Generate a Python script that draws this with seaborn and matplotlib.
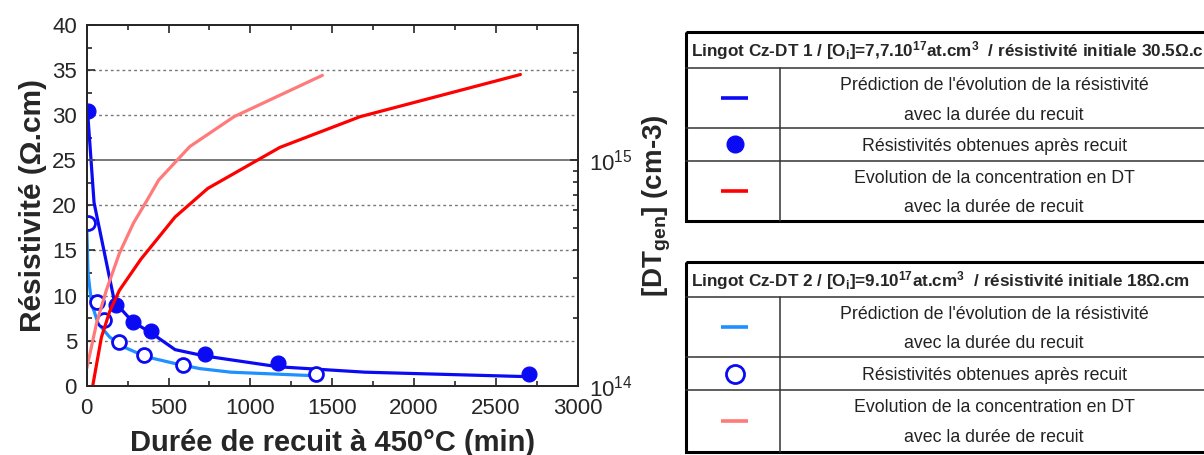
import matplotlib.pyplot as plt
import matplotlib.ticker as mticker
from matplotlib.patches import Rectangle
import seaborn as sns

# Cz-DT 1 : résistivité prédite et mesurée (Ohm.cm) vs durée du recuit (min)
time_fit1 = [5, 45, 170, 280, 390, 540, 720, 1170, 1700, 2700]
rho_fit1 = [30.5, 20.3, 9.3, 7.1, 5.9, 4.0, 3.3, 2.1, 1.5, 1.0]
time_meas1 = [5, 180, 280, 390, 720, 1170, 2700]
rho_meas1 = [30.5, 9.0, 7.1, 6.1, 3.5, 2.5, 1.3]

# Cz-DT 2
time_fit2 = [0, 8, 30, 70, 140, 225, 365, 530, 690, 880, 1400]
rho_fit2 = [18.0, 12.5, 9.1, 6.9, 5.4, 4.3, 3.2, 2.5, 1.9, 1.5, 1.1]
time_meas2 = [5, 60, 105, 200, 350, 590, 1400]
rho_meas2 = [18.0, 9.3, 7.3, 4.8, 3.4, 2.3, 1.3]

# concentration en DT générés (cm-3)
time_dt1 = [37, 90, 140, 200, 330, 540, 740, 1180, 1670, 2650]
dt1 = [1.0e14, 1.64e14, 2.13e14, 2.65e14, 3.63e14, 5.6e14, 7.5e14, 1.14e15, 1.56e15, 2.40e15]
time_dt2 = [0, 60, 120, 200, 285, 370, 440, 630, 900, 1440]
dt2 = [1.19e14, 1.89e14, 2.65e14, 3.87e14, 5.25e14, 6.67e14, 8.17e14, 1.15e15, 1.56e15, 2.38e15]

headers = [
    r'Lingot Cz-DT 1 / [O$_\mathbf{i}$]=7,7.10$^\mathbf{17}$at.cm$^\mathbf{3}$  / résistivité initiale 30.5Ω.cm',
    r'Lingot Cz-DT 2 / [O$_\mathbf{i}$]=9.10$^\mathbf{17}$at.cm$^\mathbf{3}$  / résistivité initiale 18Ω.cm',
]
row_texts = [
    ["Prédiction de l'évolution de la résistivité", 'avec la durée du recuit'],
    ['Résistivités obtenues après recuit'],
    ['Evolution de la concentration en DT', 'avec la durée de recuit'],
]

BLUE = '#0a0af5'
LBLUE = '#1e90ff'
RED = '#ff0000'
PINK = '#ff7a7a'

sns.set_style('ticks')
plt.rcParams['font.family'] = ['Liberation Sans', 'DejaVu Sans']
plt.rcParams['mathtext.fontset'] = 'custom'
plt.rcParams['mathtext.rm'] = 'Liberation Sans'
plt.rcParams['mathtext.bf'] = 'Liberation Sans:bold'
plt.rcParams['mathtext.it'] = 'Liberation Sans:italic'

fig = plt.figure(figsize=(12.04, 4.55), dpi=100)
ax = fig.add_axes([0.072, 0.1523, 0.4078, 0.7928])
ax2 = ax.twinx()
ax2.set_yscale('log')

# grille
for yv in [5, 10, 15, 20, 30, 35]:
    ax.axhline(yv, color='#777777', lw=1, ls=(0, (2, 2.2)), zorder=0)
ax2.axhline(1e15, color='#555555', lw=1.1, zorder=0)

# courbes de résistivité
sns.lineplot(x=time_fit2, y=rho_fit2, ax=ax, color=LBLUE, lw=2.3, estimator=None, sort=False)
sns.lineplot(x=time_fit1, y=rho_fit1, ax=ax, color=BLUE, lw=2.3, estimator=None, sort=False)
sns.scatterplot(x=time_meas1, y=rho_meas1, ax=ax, color=BLUE, edgecolor=BLUE, s=115, zorder=6)
sns.scatterplot(x=time_meas2, y=rho_meas2, ax=ax, facecolor='white', edgecolor=BLUE,
                linewidth=2, s=100, zorder=6)

# concentrations DT (axe droit)
sns.lineplot(x=time_dt2, y=dt2, ax=ax2, color=PINK, lw=2.3, estimator=None, sort=False)
sns.lineplot(x=time_dt1, y=dt1, ax=ax2, color=RED, lw=2.3, estimator=None, sort=False)

ax.set_xlim(0, 3000)
ax.set_ylim(0, 40)
ax2.set_ylim(1e14, 10 ** 15.6)

ax.xaxis.set_major_locator(mticker.MultipleLocator(500))
ax.xaxis.set_minor_locator(mticker.MultipleLocator(250))
ax.yaxis.set_major_locator(mticker.MultipleLocator(5))
ax.yaxis.set_minor_locator(mticker.MultipleLocator(2.5))
ax2.yaxis.set_major_locator(mticker.LogLocator(base=10))
ax2.yaxis.set_minor_locator(mticker.LogLocator(base=10, subs=range(2, 10)))
ax2.yaxis.set_minor_formatter(mticker.NullFormatter())

ax.tick_params(which='both', direction='in', top=True, right=False, labelsize=16, width=1.2)
ax.tick_params(axis='x', which='major', length=6, pad=9)
ax.tick_params(axis='y', which='major', length=6, pad=7)
ax.tick_params(which='minor', length=3.5)
ax2.tick_params(which='both', direction='in', labelsize=16, width=1.2)
ax2.tick_params(which='major', length=6, pad=8)
ax2.tick_params(which='minor', length=3.5)
for sp in ax.spines.values():
    sp.set_linewidth(1.3)
for sp in ax2.spines.values():
    sp.set_linewidth(1.3)

ax.set_xlabel('Durée de recuit à 450°C (min)', fontsize=21, fontweight='bold', labelpad=7)
ax.set_ylabel('Résistivité (Ω.cm)', fontsize=21.5, fontweight='bold', labelpad=4)
ax2.set_ylabel(r'[DT$_\mathbf{gen}$] (cm-3)', fontsize=20, fontweight='bold', labelpad=6)

# tableaux de légende
ov = fig.add_axes([0, 0, 1, 1], facecolor='none')
ov.set_xlim(0, 1204)
ov.set_ylim(455, 0)
ov.set_axis_off()

tables = [
    dict(top=32, rows=[68, 127.5, 161, 221], header=headers[0],
         symbols=[('line', BLUE), ('filled', BLUE), ('line', RED)]),
    dict(top=262, rows=[297, 357, 390, 451.5], header=headers[1],
         symbols=[('line', LBLUE), ('open', BLUE), ('line', PINK)]),
]
x0, xd, x1 = 686, 779.5, 1218
for tb in tables:
    top = tb['top']
    hb, r1, r2, bot = tb['rows']
    ov.add_patch(Rectangle((x0, top), x1 - x0, bot - top, fill=False, lw=2.2, ec='black'))
    for yy in [hb, r1, r2]:
        ov.plot([x0, x1], [yy, yy], color='#333333', lw=1.1)
    ov.plot([xd, xd], [hb, bot], color='#333333', lw=1.1)
    ov.text(691, (top + hb) / 2 + 1, tb['header'], fontsize=12.3, fontweight='bold',
            ha='left', va='center')
    bounds = [(hb, r1), (r1, r2), (r2, bot)]
    for (ya, yb), lines, (kind, col) in zip(bounds, row_texts, tb['symbols']):
        yc = (ya + yb) / 2
        if len(lines) == 2:
            ov.text(994, ya + 17.5, lines[0], fontsize=12.8, ha='center', va='center', color='#222222')
            ov.text(994, ya + 47, lines[1], fontsize=12.8, ha='center', va='center', color='#222222')
        else:
            ov.text(994, yc + 2, lines[0], fontsize=12.8, ha='center', va='center', color='#222222')
        if kind == 'line':
            ov.plot([721, 748], [yc, yc], color=col, lw=2.6, solid_capstyle='butt')
        elif kind == 'filled':
            ov.plot([735], [yc], 'o', ms=12, mfc=col, mec=col)
        else:
            ov.plot([735], [yc], 'o', ms=13, mfc='white', mec=col, mew=2)

fig.savefig('out.png', dpi=100)
